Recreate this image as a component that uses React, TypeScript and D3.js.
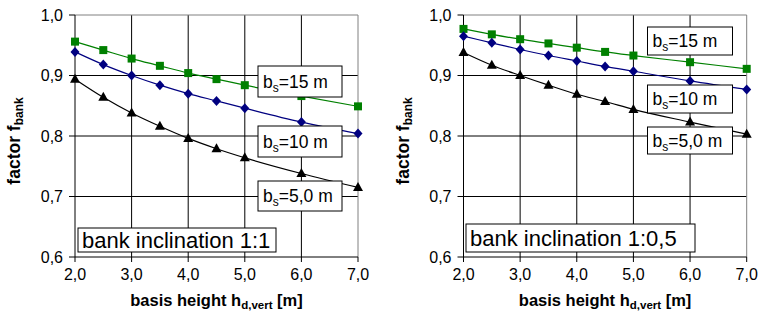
import React from 'react';
import * as d3 from 'd3';

// basis height h_d,vert [m]
const hd = [2, 2.5, 3, 3.5, 4, 4.5, 5, 6, 7];

// bank inclination 1:1
const incl11_bs15 = [0.956, 0.942, 0.928, 0.916, 0.904, 0.894, 0.884, 0.866, 0.849];
const incl11_bs10 = [0.939, 0.918, 0.900, 0.884, 0.870, 0.858, 0.846, 0.823, 0.804];
const incl11_bs5 = [0.894, 0.864, 0.838, 0.816, 0.796, 0.779, 0.764, 0.738, 0.715];

// bank inclination 1:0,5
const incl05_bs15 = [0.977, 0.968, 0.960, 0.953, 0.946, 0.939, 0.933, 0.922, 0.911];
const incl05_bs10 = [0.965, 0.954, 0.943, 0.933, 0.924, 0.915, 0.907, 0.891, 0.877];
const incl05_bs5 = [0.938, 0.917, 0.900, 0.884, 0.869, 0.857, 0.844, 0.823, 0.803];

const xTicks = [2, 3, 4, 5, 6, 7];
const yTicks = [0.6, 0.7, 0.8, 0.9, 1.0];
const seriesNames = ['15', '10', '5,0'];

const FONT = '"Liberation Sans", Arial, sans-serif';
const fmt = (v: number) => d3.format('.1f')(v).replace('.', ',');

const top = 15;
const bottom = 257;

const panels = [
  {
    left: 75,
    right: 358,
    title: 'bank inclination 1:1',
    series: [incl11_bs15, incl11_bs10, incl11_bs5],
    boxes: [[183, 66, 84, 31], [183, 126, 84, 31], [183, 181, 84, 30]],
    titleBox: [3, 228, 198, 24],
  },
  {
    left: 463.5,
    right: 746.7,
    title: 'bank inclination 1:0,5',
    series: [incl05_bs15, incl05_bs10, incl05_bs5],
    boxes: [[184, 27, 85, 28], [184, 85, 85, 28], [184, 127, 85, 27]],
    titleBox: [2.5, 224, 229, 28],
  },
];

const colors = ['#008000', '#000080', '#000000'];

function Marker({kind, x, y, color}: {kind: number; x: number; y: number; color: string}) {
  if (kind === 0) return <rect x={x - 4} y={y - 4} width={8} height={8} fill={color} />;
  if (kind === 1) return <path d={`M${x},${y - 5}L${x + 4.5},${y}L${x},${y + 5}L${x - 4.5},${y}Z`} fill={color} />;
  return <path d={`M${x},${y - 5.5}L${x + 5},${y + 3.5}L${x - 5},${y + 3.5}Z`} fill={color} />;
}

function Panel({p}: {p: typeof panels[number]}) {
  const x = d3.scaleLinear().domain([2, 7]).range([p.left, p.right]);
  const y = d3.scaleLinear().domain([0.6, 1.0]).range([bottom, top]);
  const line = d3.line<number>()
    .x((_, i) => x(hd[i]))
    .y(d => y(d))
    .curve(d3.curveMonotoneX);
  const midX = (p.left + p.right) / 2;
  return (
    <g>
      {/* grid */}
      {xTicks.slice(1, -1).map(t => (
        <line key={'gx' + t} x1={x(t)} x2={x(t)} y1={top} y2={bottom} stroke="#000" strokeWidth={1} />
      ))}
      {yTicks.slice(1, -1).map(t => (
        <line key={'gy' + t} x1={p.left} x2={p.right} y1={y(t)} y2={y(t)} stroke="#000" strokeWidth={1} />
      ))}
      <line x1={p.left} x2={p.right} y1={top} y2={top} stroke="#808080" />
      <line x1={p.right} x2={p.right} y1={top} y2={bottom} stroke="#808080" />
      {/* axes */}
      <line x1={p.left} x2={p.left} y1={top} y2={bottom} stroke="#000" />
      <line x1={p.left} x2={p.right} y1={bottom} y2={bottom} stroke="#000" />
      {yTicks.map(t => (
        <g key={'ty' + t}>
          <line x1={p.left - 6} x2={p.left} y1={y(t)} y2={y(t)} stroke="#000" />
          <text x={p.left - 12} y={y(t) + 5.5} textAnchor="end" fontSize={16}>{fmt(t)}</text>
        </g>
      ))}
      {xTicks.map(t => (
        <g key={'tx' + t}>
          <line x1={x(t)} x2={x(t)} y1={bottom} y2={bottom + 5} stroke="#000" />
          <text x={x(t)} y={bottom + 23} textAnchor="middle" fontSize={16}>{fmt(t)}</text>
        </g>
      ))}
      {/* series */}
      {p.series.map((s, k) => (
        <g key={'s' + k}>
          <path d={line(s) || ''} fill="none" stroke={colors[k]} strokeWidth={1.2} />
          {s.map((v, i) => <Marker key={i} kind={k} x={x(hd[i])} y={y(v)} color={colors[k]} />)}
        </g>
      ))}
      {/* series labels */}
      {p.boxes.map((b, k) => (
        <g key={'b' + k}>
          <rect x={p.left + b[0]} y={b[1]} width={b[2]} height={b[3]} fill="#fff" stroke="#000" />
          <text x={p.left + b[0] + 5} y={b[1] + b[3] / 2 + 6} fontSize={17.5}>
            b<tspan dy={4} fontSize={12}>s</tspan><tspan dy={-4}>={seriesNames[k]} m</tspan>
          </text>
        </g>
      ))}
      <rect x={p.left + p.titleBox[0]} y={p.titleBox[1]} width={p.titleBox[2]} height={p.titleBox[3]}
        fill="#fff" stroke="#000" />
      <text x={p.left + p.titleBox[0] + 4} y={p.titleBox[1] + p.titleBox[3] / 2 + 8} fontSize={22}>{p.title}</text>
      {/* axis titles */}
      <text x={midX} y={306} textAnchor="middle" fontSize={16.5} fontWeight="bold">
        basis height h<tspan dy={3} fontSize={11.5}>d,vert</tspan><tspan dy={-3}> [m]</tspan>
      </text>
      <text transform={`translate(${p.left - 55},141) rotate(-90)`} textAnchor="middle" fontSize={17.5} fontWeight="bold">
        factor f<tspan dy={3} fontSize={12}>bank</tspan>
      </text>
    </g>
  );
}

export default function App() {
  return (
    <svg width={760} height={320} style={{position: 'absolute', left: 0, top: 0, background: '#fff'}}
      fontFamily={FONT}>
      <rect width={760} height={320} fill="#fff" />
      {panels.map((p, i) => <Panel key={i} p={p} />)}
    </svg>
  );
}
